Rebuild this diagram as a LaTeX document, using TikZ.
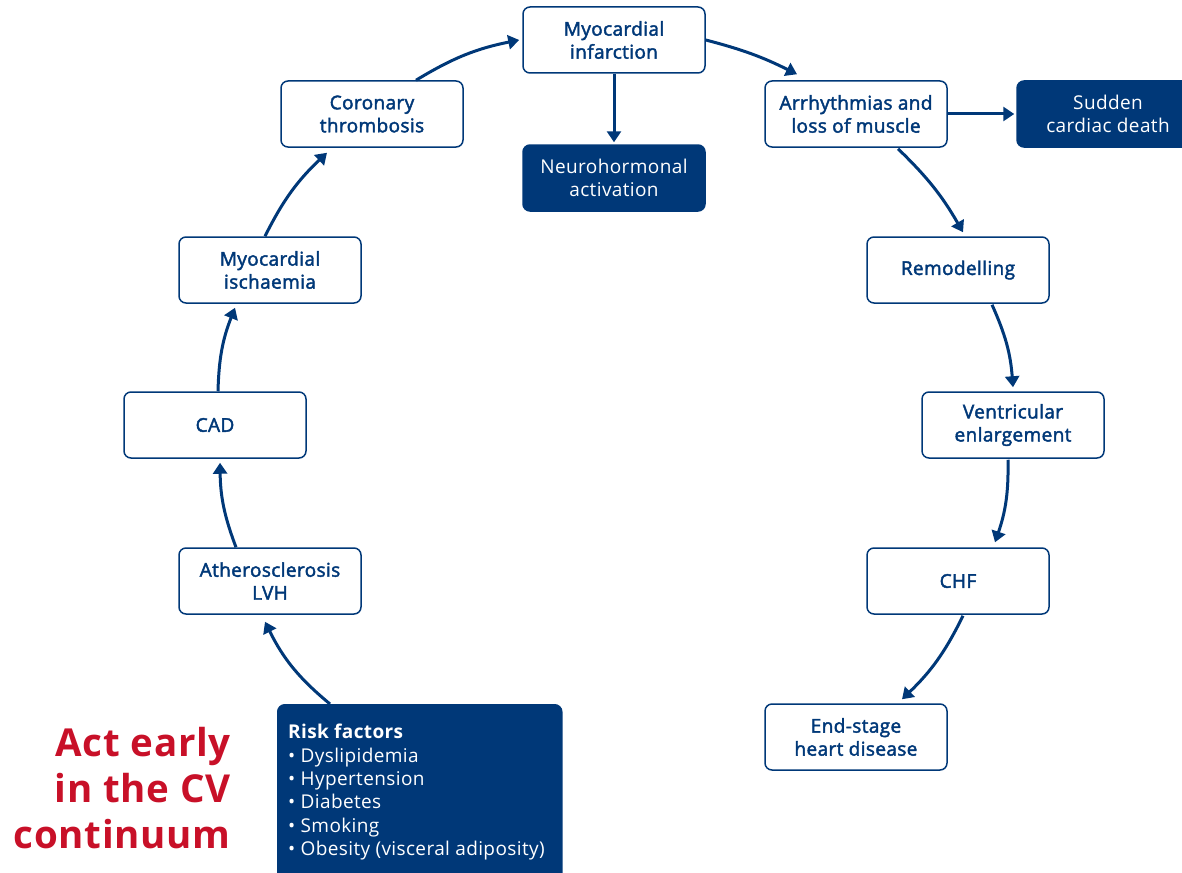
\documentclass[tikz,border=0pt]{standalone}
\usepackage{fontspec}
\setmainfont[LetterSpace=2]{Open Sans}
\newfontfamily\semib[FakeBold=2.2,LetterSpace=2]{Open Sans}
\usetikzlibrary{arrows.meta,calc}
\definecolor{navy}{RGB}{0,56,120}
\definecolor{cvred}{RGB}{200,16,40}
\tikzset{
  stage/.style={draw=navy, line width=1.5pt, rounded corners=7pt, fill=white,
    minimum width=182pt, minimum height=66pt, align=center, text=navy,
    inner sep=0pt, font=\semib\fontsize{19}{23}\selectfont},
  outcome/.style={stage, fill=navy, text=white, font=\fontsize{19}{23}\selectfont},
  flow/.style={draw=navy, line width=3pt, -{Triangle[width=14pt,length=11pt]}},
}
\begin{document}
\begin{tikzpicture}[x=1pt,y=-1pt]
\useasboundingbox (0,0) rectangle (1182,872);

% cycle stages
\node[stage]   (mi)    at (614,40)  {Myocardial\\infarction};
\node[outcome] (neuro) at (614,178) {Neurohormonal\\activation};
\node[stage]   (cor)   at (372,114) {Coronary\\thrombosis};
\node[stage]   (arr)   at (856,114) {Arrhythmias and\\loss of muscle};
\node[outcome] (scd)   at (1108,114) {Sudden\\cardiac death};
\node[stage]   (isch)  at (270,270) {Myocardial\\ischaemia};
\node[stage]   (rem)   at (958,270) {Remodelling};
\node[stage]   (cad)   at (215,425) {CAD};
\node[stage]   (vent)  at (1013,425) {Ventricular\\enlargement};
\node[stage]   (ath)   at (270,581) {Atherosclerosis\\LVH};
\node[stage]   (chf)   at (958,581) {CHF};
\node[stage]   (end)   at (856,737) {End-stage\\heart disease};

% risk factors box
\node[draw=navy, line width=1.5pt, rounded corners=7pt, fill=navy,
      minimum width=284pt, minimum height=190pt, anchor=north west] (risk) at (277,704) {};
\node[anchor=north west, align=left, text=white, inner sep=0pt,
      font=\fontsize{19}{23.4}\selectfont] (risktxt) at (288,724)
  {{\bfseries Risk factors}\\
   \textbullet\ Dyslipidemia\\
   \textbullet\ Hypertension\\
   \textbullet\ Diabetes\\
   \textbullet\ Smoking\\
   \textbullet\ Obesity (visceral adiposity)};

% slogan
\node[anchor=east, align=right, text=cvred, inner sep=0pt,
      font=\bfseries\fontsize{38.5}{46}\selectfont] (slogan) at (231,788)
  {Act early\\in the CV\\continuum};

% connectors
\draw[flow] ([xshift=53pt]risk.north west) to[bend left=12] ($(ath.south)+(-5,7)$);
\draw[flow] ($(ath.north)+(-34,0)$) to[bend left=10] ($(cad.south)+(5,4)$);
\draw[flow] ($(cad.north)+(3,0)$) to[bend left=10] ($(isch.south)+(-35,4)$);
\draw[flow] ($(isch.north)+(-5,0)$) to[bend left=10] ($(cor.south)+(-45,5)$);
\draw[flow] ($(cor.north)+(44,0)$) to[bend left=10] ($(mi.west)+(-3,0)$);
\draw[flow] (mi.south) -- ($(neuro.north)+(0,-2)$);
\draw[flow] (mi.east) to[bend left=6] ($(arr.north)+(-59,-6)$);
\draw[flow] (arr.east) -- ($(scd.west)+(-2,0)$);
\draw[flow] ($(arr.south)+(42,1)$) to[bend left=8] ($(rem.north)+(5,-4)$);
\draw[flow] ($(rem.south)+(34,1)$) to[bend left=10] ($(vent.north)+(0,-4)$);
\draw[flow] ($(vent.south)+(-5,1)$) to[bend left=10] ($(chf.north)+(37,-5)$);
\draw[flow] ($(chf.south)+(5,1)$) to[bend left=10] ($(end.north)+(46,-4)$);
\end{tikzpicture}
\end{document}
